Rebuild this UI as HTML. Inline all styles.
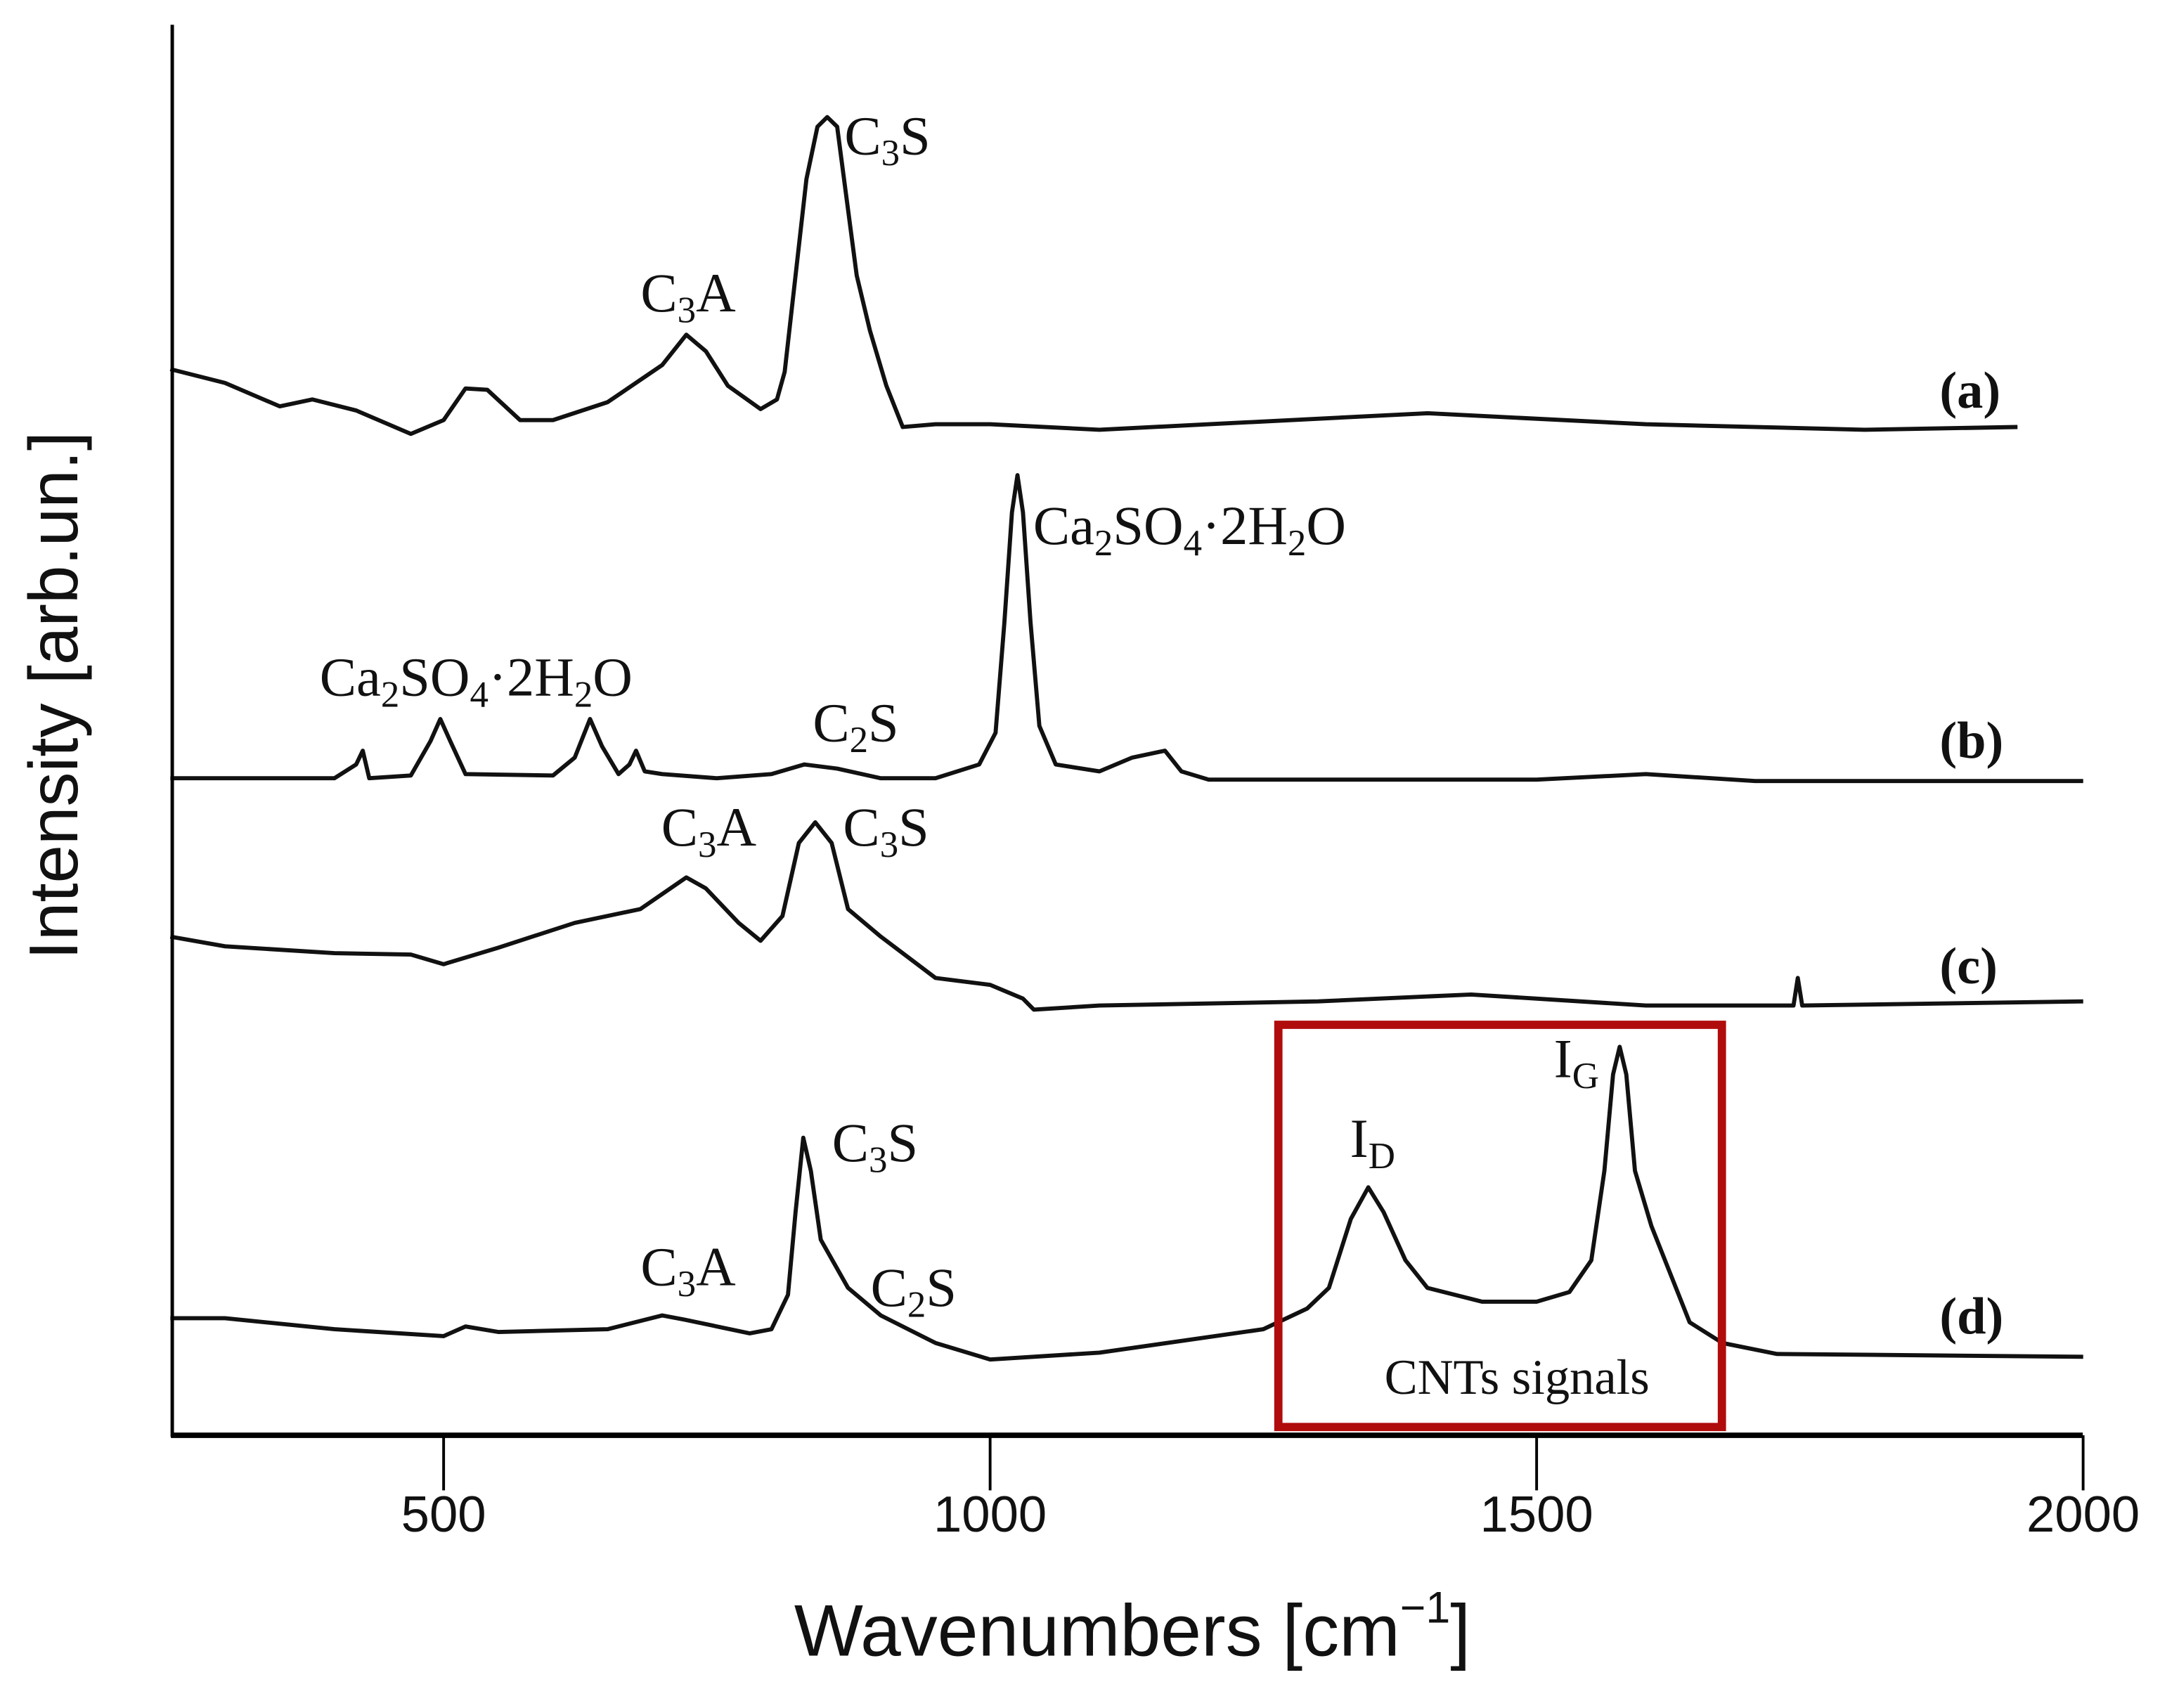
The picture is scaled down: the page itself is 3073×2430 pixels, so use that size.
<!DOCTYPE html>
<html><head><meta charset="utf-8"><style>
html,body{margin:0;padding:0;background:#fff;}
svg{display:block;}
.ser{font-family:"Liberation Serif",serif;fill:#111;}
.sans{font-family:"Liberation Sans",sans-serif;fill:#111;}
</style></head><body>
<svg id="chart" width="3073" height="2430" viewBox="0 0 1568 1240" xmlns="http://www.w3.org/2000/svg">
<rect width="1568" height="1240" fill="#fff"/>
<g id="series"></g>
<line x1="125" y1="18" x2="125" y2="1043" stroke="#000" stroke-width="2.5"/>
<line x1="124" y1="1042" x2="1512" y2="1042" stroke="#000" stroke-width="4"/>
<g id="ticks"></g>
<text class="sans" x="822" y="1202" font-size="53" text-anchor="middle">Wavenumbers [cm<tspan font-size="32" dy="-24">−1</tspan><tspan dy="24">]</tspan></text>
<text class="sans" transform="translate(56,505) rotate(-90)" font-size="50" text-anchor="middle">Intensity [arb.un.]</text>
<rect x="928" y="744" width="322" height="292" fill="none" stroke="#b00c0c" stroke-width="6"/>
<g font-size="40" class="ser">
<text x="613" y="112">C<tspan font-size="27" dy="8">3</tspan><tspan dy="-8">S</tspan></text>
<text x="465" y="226">C<tspan font-size="27" dy="8">3</tspan><tspan dy="-8">A</tspan></text>
<text x="750" y="395">Ca<tspan font-size="27" dy="8">2</tspan><tspan dy="-8">SO</tspan><tspan font-size="27" dy="8">4</tspan><tspan dy="-8">·2H</tspan><tspan font-size="27" dy="8">2</tspan><tspan dy="-8">O</tspan></text>
<text x="232" y="505">Ca<tspan font-size="27" dy="8">2</tspan><tspan dy="-8">SO</tspan><tspan font-size="27" dy="8">4</tspan><tspan dy="-8">·2H</tspan><tspan font-size="27" dy="8">2</tspan><tspan dy="-8">O</tspan></text>
<text x="590" y="538">C<tspan font-size="27" dy="8">2</tspan><tspan dy="-8">S</tspan></text>
<text x="480" y="614">C<tspan font-size="27" dy="8">3</tspan><tspan dy="-8">A</tspan></text>
<text x="612" y="614">C<tspan font-size="27" dy="8">3</tspan><tspan dy="-8">S</tspan></text>
<text x="604" y="843">C<tspan font-size="27" dy="8">3</tspan><tspan dy="-8">S</tspan></text>
<text x="465" y="933">C<tspan font-size="27" dy="8">3</tspan><tspan dy="-8">A</tspan></text>
<text x="632" y="948">C<tspan font-size="27" dy="8">2</tspan><tspan dy="-8">S</tspan></text>
<text x="980" y="840">I<tspan font-size="27" dy="8">D</tspan></text>
<text x="1128" y="782">I<tspan font-size="27" dy="8">G</tspan></text>
<text x="1005" y="1012" font-size="36">CNTs signals</text>
<text x="1408" y="296" font-weight="bold" font-size="38">(a)</text>
<text x="1408" y="550" font-weight="bold" font-size="38">(b)</text>
<text x="1408" y="714" font-weight="bold" font-size="38">(c)</text>
<text x="1408" y="968" font-weight="bold" font-size="38">(d)</text>
</g>
</svg>
<script>
// data: wavenumber [cm-1] and intensity (arb. units, height above x-axis)
const xTicks = [500, 1000, 1500, 2000];
const xTickLabels = ["500", "1000", "1500", "2000"];
const waveA = [250,300,350,380,420,470,500,520,540,570,600,650,700,722,740,760,790,805,812,822,832,842,851,860,868,878,890,905,920,950,1000,1100,1200,1400,1600,1800,1940];
const intA  = [774,764,747,752,744,727,737,760,759,737,737,750,777,799,787,762,745,752,772,842,912,950,957,950,902,842,802,762,732,734,734,730,734,742,734,730,732];
const waveB = [250,400,420,426,432,470,488,497,506,520,600,620,634,645,660,670,676,684,700,750,800,830,860,900,950,990,1005,1013,1020,1025,1030,1037,1045,1060,1100,1130,1160,1175,1200,1500,1600,1700,2000];
const intB  = [477,477,487,497,477,479,504,520,504,480,479,492,520,500,480,487,497,482,480,477,480,487,484,477,477,487,510,590,670,697,670,590,515,487,482,492,497,482,476,476,480,475,475];
const waveC = [250,300,400,470,500,550,620,680,722,740,770,790,810,825,840,855,870,900,950,1000,1030,1040,1100,1300,1440,1600,1735,1739,1743,2000];
const intC  = [362,355,350,349,342,354,372,382,405,397,372,359,377,430,445,430,382,362,332,327,317,309,312,315,320,312,312,332,312,315];
const waveD = [250,300,400,500,520,550,650,700,720,780,800,815,822,829,836,845,870,885,900,950,1000,1100,1250,1290,1310,1330,1346,1360,1380,1400,1450,1500,1530,1550,1562,1570,1576,1582,1590,1605,1620,1640,1670,1720,2000];
const intD  = [85,85,77,72,79,75,77,87,84,74,77,102,162,216,192,142,107,97,87,67,55,60,77,92,107,157,180,162,127,107,97,97,104,127,192,262,282,262,192,152,122,82,67,59,57];

const svg = document.getElementById('chart');
const NS = 'http://www.w3.org/2000/svg';
function xScale(v){ return 322 + (v - 500) * 0.7935; }
function yScale(i){ return 1042 - i; }

const tg = document.getElementById('ticks');
xTicks.forEach((t, k) => {
  const l = document.createElementNS(NS, 'line');
  
  
  l.setAttribute('x1', xScale(t)); l.setAttribute('x2', xScale(t));
  l.setAttribute('y1', 1042); l.setAttribute('y2', 1082);
  l.setAttribute('stroke', '#000'); l.setAttribute('stroke-width', '2');
  tg.appendChild(l);
  const tx = document.createElementNS(NS, 'text');
  
  
  tx.setAttribute('x', xScale(t)); tx.setAttribute('y', 1112);
  tx.setAttribute('text-anchor', 'middle');
  tx.setAttribute('font-size', '37');
  tx.setAttribute('class', 'sans');
  tx.textContent = xTickLabels[k];
  tg.appendChild(tx);
});

const sg = document.getElementById('series');
const allSeries = [['a', waveA, intA], ['b', waveB, intB], ['c', waveC, intC], ['d', waveD, intD]];
allSeries.forEach(s => {
  const p = document.createElementNS(NS, 'polyline');
  
  
  p.setAttribute('points', s[1].map((w, i) => xScale(w).toFixed(1) + ',' + yScale(s[2][i]).toFixed(1)).join(' '));
  p.setAttribute('fill', 'none');
  p.setAttribute('stroke', '#111');
  p.setAttribute('stroke-width', '3');
  p.setAttribute('stroke-linejoin', 'round');
  sg.appendChild(p);
});
</script>
</body></html>
